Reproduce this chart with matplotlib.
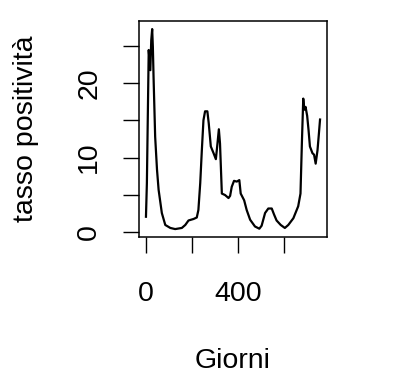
import matplotlib.pyplot as plt

# Days and positivity rate
giorni = [0, 4, 12, 19, 23, 27, 30, 33, 40, 48, 55, 69, 84, 106, 127, 156, 171,
          185, 207, 221, 228, 236, 243, 250, 257, 267, 273, 282, 294, 304, 311,
          317, 322, 330, 344, 359, 366, 373, 383, 395, 406, 412, 427, 438, 453,
          474, 493, 503, 518, 532, 547, 557, 568, 586, 604, 619, 641, 662, 672,
          678, 684, 688, 694, 701, 707, 713, 724, 731, 738, 746, 752, 757]
tasso = [2.1, 6.6, 24.4, 21.7, 25.7, 27.2, 24.8, 20.8, 12.8, 8.4, 5.7, 2.6, 1.0,
         0.6, 0.45, 0.6, 1.0, 1.6, 1.8, 2.0, 3.0, 6.6, 11.0, 15.0, 16.2, 16.2,
         14.6, 11.5, 10.6, 9.8, 11.9, 13.8, 11.9, 5.2, 5.0, 4.6, 4.9, 6.1, 6.9,
         6.8, 7.0, 5.2, 4.3, 3.0, 1.7, 0.8, 0.5, 0.9, 2.6, 3.2, 3.2, 2.4, 1.6,
         1.0, 0.6, 1.0, 1.9, 3.5, 5.2, 11.9, 17.9, 16.4, 16.8, 15.6, 13.7, 11.5,
         10.6, 10.4, 9.2, 11.0, 13.2, 15.1]

x_ticks = [0, 200, 400, 600]
x_labels = ["0", "", "400", ""]
y_ticks = [0, 5, 10, 15, 20, 25]
y_labels = ["0", "", "10", "", "20", ""]

plt.rcParams['font.family'] = ['Liberation Sans', 'DejaVu Sans']

fig = plt.figure(figsize=(4, 3.83), dpi=100)
ax = fig.add_axes([0.3475, 0.381, 0.47, 0.564])
ax.plot(giorni, tasso, color='black', linewidth=1.6)

# R-style 4% padding
xr = max(giorni) - min(giorni)
yr = max(tasso) - min(tasso)
ax.set_xlim(min(giorni) - 0.04 * xr, max(giorni) + 0.04 * xr)
ax.set_ylim(min(tasso) - 0.04 * yr, max(tasso) + 0.04 * yr)

ax.set_xticks(x_ticks, x_labels)
ax.set_yticks(y_ticks, y_labels)
ax.tick_params(axis='both', direction='out', length=11.5, width=1.0,
               labelsize=20.5, color='black')
ax.tick_params(axis='x', pad=20)
ax.tick_params(axis='y', pad=15)
plt.setp(ax.get_yticklabels(), rotation=90, va='center')

for s in ax.spines.values():
    s.set_linewidth(1.1)

ax.set_xlabel("Giorni", fontsize=20.5, labelpad=30)
ax.set_ylabel("tasso positività", fontsize=20.5, labelpad=27)

fig.savefig("out.png", dpi=100)
